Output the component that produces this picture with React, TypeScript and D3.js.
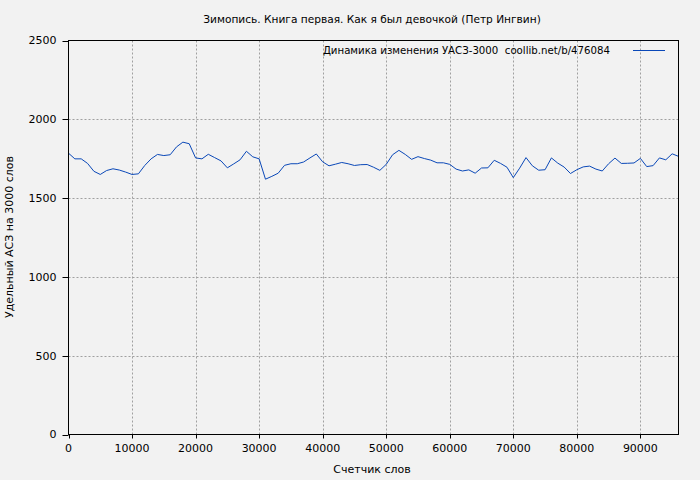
import React, { useEffect } from "react";
import * as d3 from "d3";

const TITLE = "Зимопись. Книга первая. Как я был девочкой (Петр Ингвин)";
const X_LABEL = "Счетчик слов";
const Y_LABEL = "Удельный АСЗ на 3000 слов";
const LEGEND = "Динамика изменения УАСЗ-3000 \u00a0coollib.net/b/476084";

const words: number[] = [
  0, 1000, 2000, 3000, 4000, 5000, 6000, 7000, 8000, 9000,
  10000, 11000, 12000, 13000, 14000, 15000, 16000, 17000, 18000, 19000,
  20000, 21000, 22000, 23000, 24000, 25000, 26000, 27000, 28000, 29000,
  30000, 31000, 32000, 33000, 34000, 35000, 36000, 37000, 38000, 39000,
  40000, 41000, 42000, 43000, 44000, 45000, 46000, 47000, 48000, 49000,
  50000, 51000, 52000, 53000, 54000, 55000, 56000, 57000, 58000, 59000,
  60000, 61000, 62000, 63000, 64000, 65000, 66000, 67000, 68000, 69000,
  70000, 71000, 72000, 73000, 74000, 75000, 76000, 77000, 78000, 79000,
  80000, 81000, 82000, 83000, 84000, 85000, 86000, 87000, 88000, 89000,
  90000, 91000, 92000, 93000, 94000, 95000, 96000,
];

const values: number[] = [
  1785, 1749, 1749, 1720, 1670, 1650, 1675, 1686, 1678, 1665,
  1650, 1654, 1707, 1749, 1777, 1770, 1775, 1825, 1855, 1845,
  1755, 1749, 1778, 1757, 1736, 1692, 1717, 1743, 1797, 1762,
  1749, 1620, 1638, 1658, 1708, 1718, 1718, 1729, 1755, 1780,
  1730, 1705, 1715, 1726, 1718, 1707, 1712, 1713, 1696, 1676,
  1714, 1775, 1803, 1777, 1746, 1763, 1751, 1741, 1724, 1724,
  1714, 1684, 1672, 1679, 1658, 1691, 1692, 1740, 1720, 1696,
  1630, 1690, 1757, 1705, 1677, 1680, 1755, 1722, 1697, 1656,
  1680, 1698, 1703, 1684, 1672, 1718, 1754, 1720, 1721, 1723,
  1752, 1700, 1706, 1755, 1743, 1781, 1765,
];

const xTicks: number[] = [0, 10000, 20000, 30000, 40000, 50000, 60000, 70000, 80000, 90000];
const yTicks: number[] = [0, 500, 1000, 1500, 2000, 2500];

const W = 700;
const H = 480;
const M = { left: 68.5, right: 678.5, top: 40.5, bottom: 434.5 };
const FONT = "'DejaVu Sans', sans-serif";

export default function App() {
  useEffect(() => {
    document.body.style.margin = "0";
  }, []);

  const x = d3.scaleLinear().domain([0, 96000]).range([M.left, M.right]);
  const y = d3.scaleLinear().domain([0, 2500]).range([M.bottom, M.top]);
  const line = d3
    .line<number>()
    .x((_, i) => x(words[i]))
    .y((d) => y(d));

  const gridColor = "#a0a0a0";
  const lineColor = "#0a48b8";

  return (
    <svg width={W} height={H} style={{ display: "block" }} fontFamily={FONT}>
      <rect x={0} y={0} width={W} height={H} fill="#f2f2f2" />
      {/* grid */}
      {xTicks.slice(1).map((t) => (
        <line key={"gx" + t} x1={Math.round(x(t)) + 0.5} x2={Math.round(x(t)) + 0.5} y1={M.top} y2={M.bottom}
          stroke={gridColor} strokeWidth={1} strokeDasharray="2,2" />
      ))}
      {yTicks.slice(1, -1).map((t) => (
        <line key={"gy" + t} x1={M.left} x2={M.right} y1={Math.round(y(t)) + 0.5} y2={Math.round(y(t)) + 0.5}
          stroke={gridColor} strokeWidth={1} strokeDasharray="2,2" />
      ))}
      {/* data line */}
      <path d={line(values) || ""} fill="none" stroke={lineColor} strokeWidth={1} />
      {/* frame */}
      <rect x={M.left} y={M.top} width={M.right - M.left} height={M.bottom - M.top} fill="none" stroke="#000" strokeWidth={1} />
      {/* y ticks */}
      {yTicks.map((t) => (
        <g key={"yt" + t}>
          <line x1={M.left - 6} x2={M.left} y1={Math.round(y(t)) + 0.5} y2={Math.round(y(t)) + 0.5} stroke="#000" />
          <text x={M.left - 12} y={y(t)} dy="0.35em" textAnchor="end" fontSize={11} fill="#000">{t}</text>
        </g>
      ))}
      {/* x ticks */}
      {xTicks.map((t) => (
        <g key={"xt" + t}>
          <line x1={Math.round(x(t)) + 0.5} x2={Math.round(x(t)) + 0.5} y1={M.bottom} y2={M.bottom + 4} stroke="#000" />
          <text x={x(t)} y={452} textAnchor="middle" fontSize={11} fill="#000">{t}</text>
        </g>
      ))}
      {/* labels */}
      <text x={372} y={23} textAnchor="middle" fontSize={10.6} fill="#000">{TITLE}</text>
      <text x={372} y={473} textAnchor="middle" fontSize={11} fill="#000">{X_LABEL}</text>
      <text transform={`translate(13,237) rotate(-90)`} textAnchor="middle" fontSize={11} fill="#000">{Y_LABEL}</text>
      {/* legend */}
      <text x={610} y={54} textAnchor="end" fontSize={10.2} fill="#000">{LEGEND}</text>
      <line x1={633} x2={665} y1={50.5} y2={50.5} stroke={lineColor} strokeWidth={1} />
    </svg>
  );
}
